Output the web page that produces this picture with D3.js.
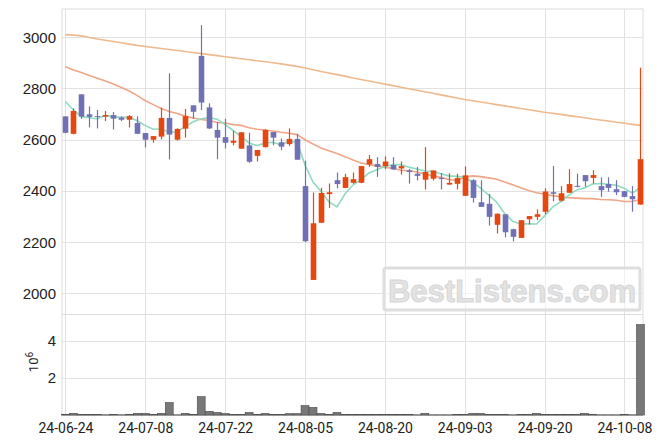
<!DOCTYPE html>
<html><head><meta charset="utf-8">
<script src="https://cdn.jsdelivr.net/npm/d3@7"></script>
<style>body{margin:0;background:#fff}svg{display:block}</style>
</head><body>
<svg id="c" width="663" height="444"></svg>
<script>
const dates = ["2024-06-24","2024-06-25","2024-06-26","2024-06-27","2024-06-28",
"2024-07-01","2024-07-02","2024-07-03","2024-07-04","2024-07-05",
"2024-07-08","2024-07-09","2024-07-10","2024-07-11","2024-07-12",
"2024-07-15","2024-07-16","2024-07-17","2024-07-18","2024-07-19",
"2024-07-22","2024-07-23","2024-07-24","2024-07-25","2024-07-26",
"2024-07-29","2024-07-30","2024-07-31","2024-08-01","2024-08-02",
"2024-08-05","2024-08-06","2024-08-07","2024-08-08","2024-08-09",
"2024-08-12","2024-08-13","2024-08-14","2024-08-16","2024-08-19",
"2024-08-20","2024-08-21","2024-08-22","2024-08-23","2024-08-26",
"2024-08-27","2024-08-28","2024-08-29","2024-08-30","2024-09-02",
"2024-09-03","2024-09-04","2024-09-05","2024-09-06","2024-09-09",
"2024-09-10","2024-09-11","2024-09-12","2024-09-13","2024-09-19",
"2024-09-20","2024-09-23","2024-09-24","2024-09-25","2024-09-26",
"2024-09-27","2024-09-30","2024-10-02","2024-10-04","2024-10-07",
"2024-10-08","2024-10-10","2024-10-11"];
const open  = [2691,2623,2777,2699,2692,2690,2696,2686,2678,2665,2626,2600,2612,2685,2600,2643,2734,2927,2726,2638,
               2610,2588,2565,2578,2537,2571,2630,2590,2583,2603,2419,2053,2276,2388,2442,2412,2432,2432,2504,2505,
               2497,2501,2488,2480,2467,2444,2448,2451,2425,2428,2381,2442,2356,2350,2268,2309,2251,2217,2290,2299,
               2319,2395,2362,2393,2420,2462,2451,2419,2427,2407,2399,2380,2347];
const high  = [2691,2722,2777,2730,2716,2712,2708,2691,2696,2691,2626,2614,2725,2859,2645,2720,2734,3047,2742,2670,
               2682,2635,2629,2627,2560,2641,2630,2605,2644,2623,2518,2394,2412,2429,2472,2467,2472,2497,2540,2532,
               2535,2532,2515,2486,2494,2571,2480,2470,2469,2467,2496,2446,2442,2389,2313,2309,2253,2286,2302,2328,
               2410,2497,2419,2485,2468,2462,2481,2453,2453,2442,2400,2419,2881];
const low   = [2625,2621,2681,2648,2644,2673,2640,2672,2648,2623,2570,2588,2601,2523,2597,2608,2682,2716,2642,2524,
               2566,2578,2565,2510,2515,2569,2578,2559,2576,2522,2200,2053,2276,2334,2410,2412,2428,2430,2494,2455,
               2485,2483,2464,2429,2441,2406,2441,2406,2424,2406,2381,2355,2338,2265,2234,2219,2203,2217,2269,2286,
               2309,2360,2359,2393,2414,2416,2429,2377,2397,2384,2376,2319,2347];
const close = [2627,2712,2690,2689,2689,2696,2682,2678,2692,2623,2600,2614,2685,2620,2642,2692,2709,2745,2644,2608,
               2588,2596,2629,2514,2560,2638,2608,2573,2603,2522,2204,2274,2392,2395,2427,2454,2446,2497,2524,2494,
               2515,2484,2497,2474,2459,2474,2480,2448,2432,2450,2461,2373,2338,2299,2311,2239,2221,2286,2302,2309,
               2398,2389,2391,2427,2416,2438,2462,2403,2412,2395,2377,2368,2524];
const volume = [0.04,0.09,0.03,0.03,0.03,0.01,0.03,0.01,0.03,0.09,0.09,0.02,0.09,0.67,0.01,0.09,0.03,0.99,0.20,0.14,
                0.08,0.03,0.03,0.14,0.03,0.08,0.03,0.03,0.07,0.07,0.51,0.41,0.08,0.03,0.14,0.03,0.03,0.03,0.03,0.03,
                0.03,0.03,0.03,0.03,0.01,0.09,0.01,0.01,0.01,0.03,0.03,0.09,0.09,0.03,0.03,0.03,0.01,0.03,0.03,0.09,
                0.03,0.03,0.03,0.03,0.03,0.09,0.03,0.01,0.01,0.01,0.03,0.01,4.88];
const ma5 = [2749,2716,2690,2686,2681,2695,2689,2687,2687,2674,2655,2641,2643,2628,2632,2651,2670,2682,2686,2680,
             2659,2636,2613,2587,2577,2587,2590,2579,2596,2589,2502,2435,2399,2357,2338,2388,2423,2444,2470,2483,
             2495,2503,2503,2493,2486,2478,2477,2467,2459,2457,2454,2433,2411,2384,2356,2312,2282,2271,2272,2271,
             2303,2337,2358,2383,2404,2412,2427,2429,2426,2422,2410,2391,2415];
const ma20 = [2885,2872,2862,2851,2840,2829,2817,2804,2790,2772,2752,2737,2722,2710,2702,2692,2685,2679,2675,2667,
              2665,2659,2656,2647,2641,2638,2634,2629,2625,2620,2600,2583,2568,2557,2546,2534,2521,2509,2503,2497,
              2493,2488,2481,2479,2474,2466,2459,2453,2445,2441,2454,2459,2456,2451,2446,2435,2424,2413,2402,2393,
              2387,2382,2377,2374,2372,2370,2370,2367,2366,2364,2359,2359,2368];
const ma120 = [3010,3008,3005,2999,2993,2988,2983,2978,2973,2968,2964,2960,2956,2952,2948,2944,2940,2936,2932,2928,
               2924,2920,2916,2912,2908,2904,2900,2896,2891,2886,2880,2873,2866,2860,2854,2848,2841,2835,2829,2823,
               2817,2811,2805,2799,2793,2787,2781,2775,2769,2763,2757,2752,2747,2742,2737,2732,2727,2722,2717,2712,
               2707,2703,2699,2694,2690,2686,2681,2677,2673,2668,2664,2660,2656];
const priceTicks = [2000,2200,2400,2600,2800,3000];
const volTicks = [2,4];
const xTickIdx = [0,10,20,30,40,50,60,70];

const svg = d3.select("#c");
const L = 62, R = 643, T = 9, MB = 314, VB = 415;
const x = d3.scaleLinear().domain([-0.43, 72.32]).range([L, R]);
const y = d3.scaleLinear().domain([1920, 3110]).range([MB, T]);
const yv = d3.scaleLinear().domain([0, 5.45]).range([VB, MB]);
const idx = d3.range(dates.length);
const fmt = s => s.slice(2);

const gridC = "#e2e2e2";
svg.append("rect").attr("x", L).attr("y", T).attr("width", R - L).attr("height", VB - T)
  .attr("fill", "none").attr("stroke", "#dcdcdc");
svg.append("g").selectAll("line").data(priceTicks).join("line")
  .attr("x1", L).attr("x2", R).attr("y1", d => Math.round(y(d)) + 0.5).attr("y2", d => Math.round(y(d)) + 0.5)
  .attr("stroke", gridC);
svg.append("g").selectAll("line").data(volTicks).join("line")
  .attr("x1", L).attr("x2", R).attr("y1", d => Math.round(yv(d)) + 0.5).attr("y2", d => Math.round(yv(d)) + 0.5)
  .attr("stroke", gridC);
svg.append("g").selectAll("line").data(xTickIdx).join("line")
  .attr("x1", d => Math.round(x(d)) + 0.5).attr("x2", d => Math.round(x(d)) + 0.5)
  .attr("y1", T).attr("y2", VB).attr("stroke", gridC);
svg.append("line").attr("x1", L).attr("x2", R).attr("y1", MB + 0.5).attr("y2", MB + 0.5).attr("stroke", "#dcdcdc");

const yAxis = d3.axisLeft(y).tickValues(priceTicks).tickFormat(d3.format("d")).tickSize(0).tickPadding(6);
const gy = svg.append("g").attr("transform", `translate(${L},0)`).call(yAxis);
const gyv = svg.append("g").attr("transform", `translate(${L},0)`)
  .call(d3.axisLeft(yv).tickValues(volTicks).tickFormat(d3.format("d")).tickSize(0).tickPadding(6));
const xAxis = d3.axisBottom(x).tickValues(xTickIdx).tickFormat(i => fmt(dates[i])).tickSize(0).tickPadding(8);
const gx = svg.append("g").attr("transform", `translate(0,${VB})`).call(xAxis);
[gy, gyv].forEach(g => {
  g.select(".domain").remove();
  g.selectAll("text").attr("fill", "#222").style("font-family", "'Liberation Sans', Arial, sans-serif").style("font-size", "15px");
});
gx.select(".domain").remove();
gx.selectAll("text").attr("fill", "#222").style("font-family", "Roboto, sans-serif").style("font-size", "14px");
svg.append("line").attr("x1", L).attr("x2", R).attr("y1", VB + 0.5).attr("y2", VB + 0.5).attr("stroke", "#bbb");

svg.append("text").attr("transform", "translate(38,362) rotate(-90)").attr("text-anchor", "middle")
  .style("font-family", "Roboto, sans-serif").style("font-size", "13px").attr("fill", "#222")
  .text("10").append("tspan").attr("dy", -5).style("font-size", "10px").text("6");

svg.append("rect").attr("x", 384).attr("y", 268).attr("width", 256).attr("height", 42).attr("rx", 2)
  .attr("fill", "rgba(255,255,255,0.55)").attr("stroke", "#dedede").attr("stroke-width", 3);
svg.append("text").attr("x", 512).attr("y", 302).attr("text-anchor", "middle")
  .style("font-family", "'Liberation Sans', Arial, sans-serif").style("font-weight", "bold").style("font-size", "31px")
  .attr("fill", "#e3e3e3").attr("stroke", "#d6d6d6").attr("stroke-width", 1).text("BestListens.com");

const lineOf = arr => d3.line().x(i => x(i)).y(i => y(arr[i]));
[[ma120, "#efb98c"], [ma20, "#f1a587"], [ma5, "#8fdcc2"]].forEach(([arr, c]) => {
  svg.append("path").attr("d", lineOf(arr)(idx)).attr("fill", "none").attr("stroke", c).attr("stroke-width", 1.6);
});

const up = "#e6460f", dn = "#7070b6";
const cw = 5.6;
const cg = svg.append("g");
cg.selectAll("line").data(idx).join("line")
  .attr("x1", i => Math.round(x(i)) + 0.5).attr("x2", i => Math.round(x(i)) + 0.5)
  .attr("y1", i => y(high[i])).attr("y2", i => y(low[i]))
  .attr("stroke", i => close[i] >= open[i] ? up : dn).attr("stroke-width", 1.2);
cg.selectAll("rect").data(idx).join("rect")
  .attr("x", i => Math.round(x(i)) + 0.5 - cw / 2).attr("width", cw)
  .attr("y", i => y(Math.max(open[i], close[i])))
  .attr("height", i => Math.max(1, Math.abs(y(open[i]) - y(close[i]))))
  .attr("fill", i => close[i] >= open[i] ? up : dn);

const bw = 7.9;
svg.append("g").selectAll("rect").data(idx).join("rect")
  .attr("x", i => x(i) - bw / 2).attr("width", bw)
  .attr("y", i => yv(volume[i])).attr("height", i => VB - yv(volume[i]))
  .attr("fill", "#787878").attr("stroke", "#4a4a4a").attr("stroke-width", 0.6);
</script>
</body></html>
